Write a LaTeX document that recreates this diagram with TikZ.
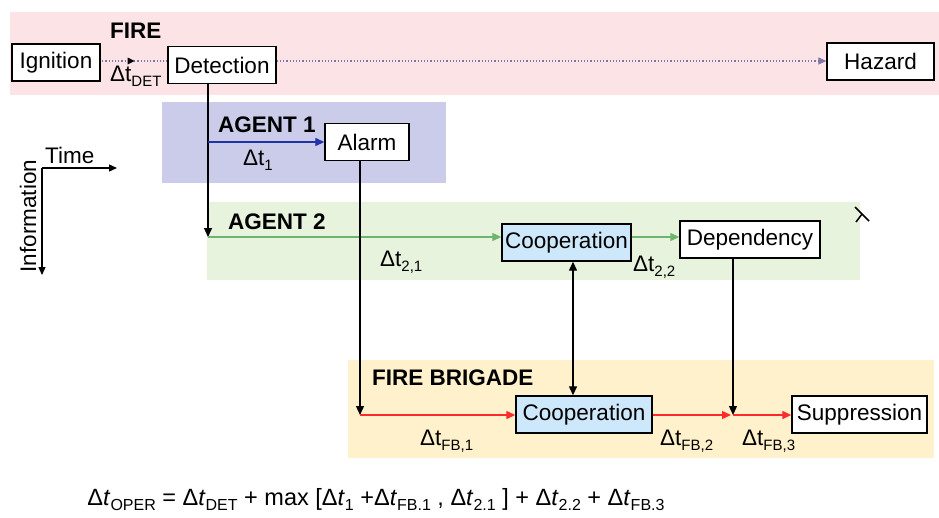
\documentclass[tikz,border=0pt]{standalone}
\usepackage{fontspec}
\setmainfont{Liberation Sans}
\usetikzlibrary{arrows.meta,decorations.markings}

\definecolor{fireband}{HTML}{FCE3E6}
\definecolor{agentoneband}{HTML}{CBCBEA}
\definecolor{agenttwoband}{HTML}{E8F3DD}
\definecolor{brigadeband}{HTML}{FFF1CC}
\definecolor{coopfill}{HTML}{CCE8FA}
\definecolor{dotline}{HTML}{7F77A9}
\definecolor{blueflow}{HTML}{2232A8}
\definecolor{greenflow}{HTML}{6DB56F}
\definecolor{redflow}{HTML}{FF2A2A}

\newcommand\dfont{\fontsize{22.5}{27}\selectfont}
\newcommand\eqfont{\fontsize{23.5}{28}\selectfont}
\newcommand\lsub[1]{\raisebox{-0.45ex}{\fontsize{15}{15}\selectfont #1}}
\newcommand\esub[1]{\raisebox{-0.4ex}{\fontsize{16}{16}\selectfont #1}}

\begin{document}
\begin{tikzpicture}[x=1pt,y=-1pt,
  box/.style={draw=black, line width=1.4pt, fill=white, font=\dfont,
    inner sep=0pt, minimum height=37pt},
  coopbox/.style={box, fill=coopfill},
  bandlabel/.style={font=\dfont\bfseries, anchor=west, inner sep=0pt},
  dtlabel/.style={font=\dfont, anchor=west, inner sep=0pt},
  tip/.style={-{Triangle[length=9pt,width=8pt]}},
  flow/.style={line width=1.3pt, tip},
  dotflow/.style={dotline, line width=1.2pt, dotted},
]
\useasboundingbox (0,0) rectangle (939,517);

% swim lanes
\fill[fireband] (10,12) rectangle (939,95);
\fill[agentoneband] (162,102) rectangle (446,183);
\fill[agenttwoband] (207,202) rectangle (860,280);
\fill[brigadeband] (348,360) rectangle (934,458);

\node[bandlabel] (lfire) at (110,31) {FIRE};
\node[bandlabel] (lag1) at (218,125) {AGENT 1};
\node[bandlabel] (lag2) at (228,222) {AGENT 2};
\node[bandlabel] (lfb) at (372,378) {FIRE BRIGADE};

% events
\node[box, minimum width=88pt] (ign) at (56,62.5) {Ignition};
\node[box, minimum width=108pt] (det) at (222,65) {Detection};
\node[box, minimum width=107pt] (haz) at (880.5,61.5) {Hazard};
\node[box, minimum width=84pt] (alarm) at (367,142) {Alarm};
\node[coopbox, minimum width=129pt] (coopa) at (566.5,242.5) {Cooperation};
\node[box, minimum width=140pt] (dep) at (750,239.5) {Dependency};
\node[coopbox, minimum width=136pt] (coopb) at (584,414.5) {Cooperation};
\node[box, minimum width=135pt] (sup) at (859.5,414.5) {Suppression};

% junction points of the flows
\coordinate (fireline) at (0,61);
\coordinate (aoin) at (208,142);
\coordinate (atin) at (208,237);
\coordinate (fbin) at (360,415);
\coordinate (coopx) at (573,0);
\coordinate (jn) at (733,415);

% fire development (dotted)
\draw[dotflow, postaction={decorate}, decoration={markings,
    mark=at position 0.55 with {\fill[black] (3,-3.5) -- (-4,0) -- (3,3.5) -- cycle;}}]
  (det.west |- fireline) -- (ign.east |- fireline);
\draw[dotflow, -{Triangle[length=8pt,width=7pt]}] (det.east |- fireline) -- (haz.west |- fireline);

% information flows
\draw[line width=1.3pt] (det.south -| atin) -- (aoin);
\draw[flow] (aoin) -- (atin);
\draw[flow, blueflow] (aoin) -- (alarm.west |- aoin);
\draw[flow, greenflow] (atin) -- (coopa.west |- atin);
\draw[flow, greenflow] (coopa.east |- atin) -- (dep.west |- atin);
\draw[flow] (alarm.south -| fbin) -- (fbin);
\draw[line width=1.3pt, {Triangle[length=9pt,width=8pt]}-{Triangle[length=9pt,width=8pt]}]
  (coopa.south -| coopx) -- (coopb.north -| coopx);
\draw[flow] (dep.south -| jn) -- (jn);
\draw[flow, redflow] (fbin) -- (coopb.west |- fbin);
\draw[flow, redflow] (coopb.east |- fbin) -- ([xshift=-2pt]jn);
\draw[flow, redflow] (jn) -- (sup.west |- jn);

% cut mark at the end of the agent 2 lane
\draw[line width=1.5pt] (855,207) -- (869,221);
\draw[line width=1.5pt] (856,222) -- (862,214);

% time intervals
\node[dtlabel] (tdet) at (110,76) {Δt\lsub{DET}};
\node[dtlabel] (tone) at (243,160) {Δt\lsub{1}};
\node[dtlabel] (ttwoone) at (380,262) {Δt\lsub{2,1}};
\node[dtlabel] (ttwotwo) at (633,267) {Δt\lsub{2,2}};
\node[dtlabel] (tfbone) at (420,441) {Δt\lsub{FB,1}};
\node[dtlabel] (tfbtwo) at (660,441) {Δt\lsub{FB,2}};
\node[dtlabel] (tfbthree) at (742,441) {Δt\lsub{FB,3}};

% axes legend
\coordinate (axo) at (42,168);
\coordinate (axt) at (117,168);
\coordinate (axi) at (42,275);
\draw[line width=1.4pt, -{Triangle[length=8pt,width=7pt]}] (axo) -- (axt);
\draw[line width=1.4pt, -{Triangle[length=8pt,width=7pt]}] (axo) -- (axi);
\node[dtlabel] (ltime) at (45,155) {Time};
\node[font=\dfont, rotate=90, inner sep=0pt] (linfo) at (28,216) {Information};

% operational time
\node[font=\eqfont, inner sep=0pt] (eq) at (376,500)
  {Δ\textit{t}\esub{OPER} = Δ\textit{t}\esub{DET} + max [Δ\textit{t}\esub{1} +Δ\textit{t}\esub{FB.1} , Δ\textit{t}\esub{2.1} ] + Δ\textit{t}\esub{2.2} + Δ\textit{t}\esub{FB.3}};
\end{tikzpicture}
\end{document}
